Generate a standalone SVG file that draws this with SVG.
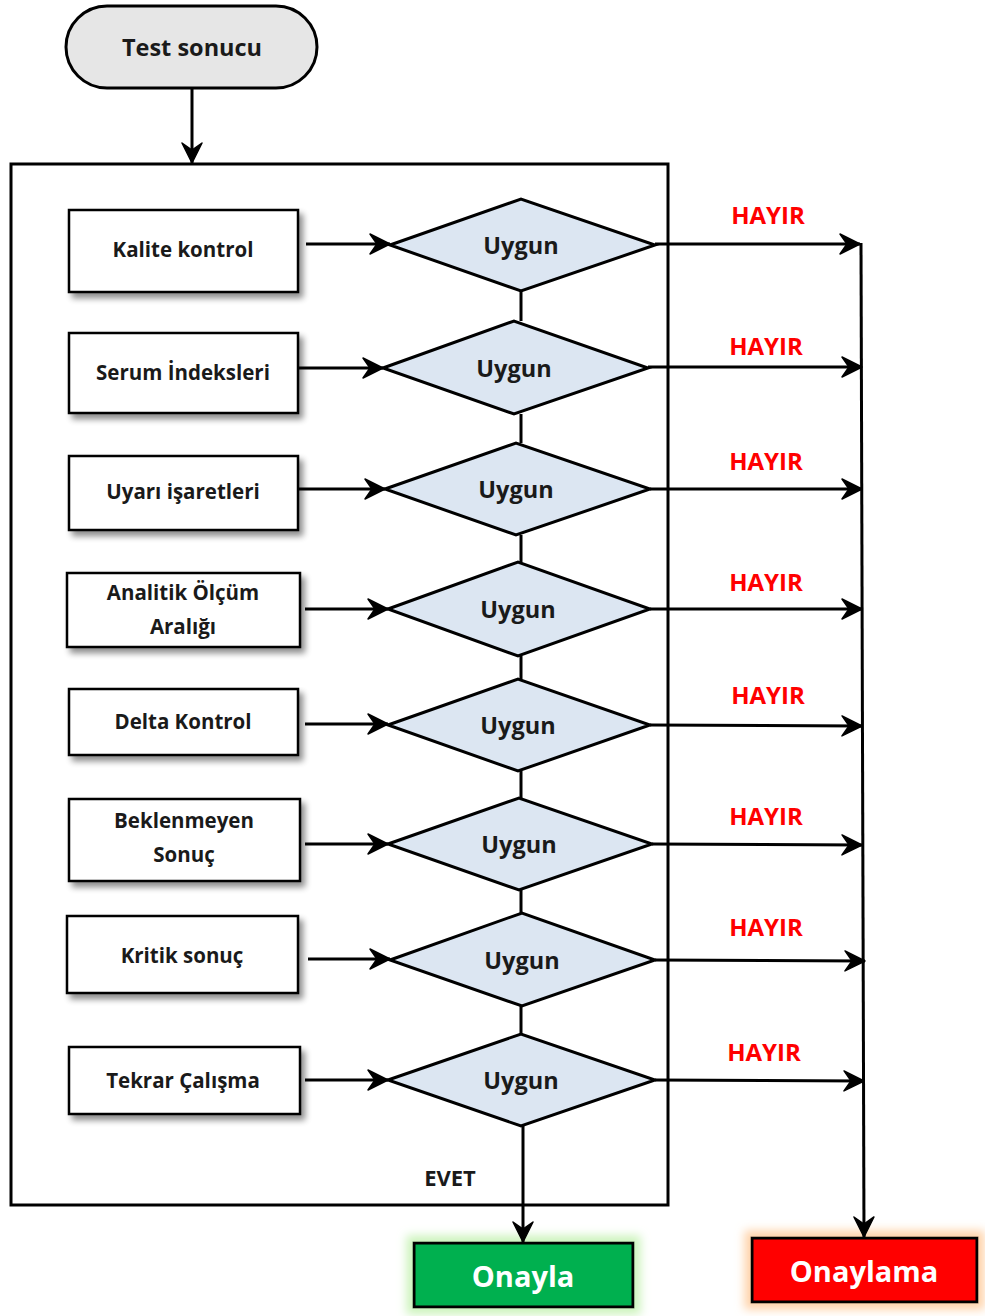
<svg xmlns="http://www.w3.org/2000/svg" width="985" height="1316" viewBox="0 0 985 1316">
<style>
text{font-family:"Open Sans","Noto Sans",sans-serif;font-weight:700;text-anchor:middle;dominant-baseline:central;fill:#1a1a1a}
.box{fill:#fff;stroke:#000;stroke-width:2.5;filter:url(#sh)}
.dia{fill:#dce6f2;stroke:#000;stroke-width:3}
.t{font-size:20.5px}
.u{font-size:23.5px}
.no{font-size:24px;fill:#ff0000;font-weight:700}
.c line,.c path{stroke:#000;stroke-width:3;fill:none}
.w{fill:#fff;font-size:29px;font-weight:700}
</style>
<defs>
<marker id="ahv" viewBox="0 0 24 24" refX="22" refY="12" markerWidth="24" markerHeight="24" markerUnits="userSpaceOnUse" orient="auto">
<path d="M2,2 L22,12 L2,22 L9,12 Z" fill="#000" stroke="#000" stroke-width="1.5" stroke-linejoin="round"/>
</marker>
<filter id="sh" x="-10%" y="-10%" width="130%" height="140%">
<feGaussianBlur in="SourceAlpha" stdDeviation="3"/>
<feOffset dx="4" dy="5" result="o"/>
<feComponentTransfer><feFuncA type="linear" slope="0.45"/></feComponentTransfer>
<feMerge><feMergeNode/><feMergeNode in="SourceGraphic"/></feMerge>
</filter>
<filter id="gg" x="-20%" y="-40%" width="140%" height="180%">
<feMorphology in="SourceAlpha" operator="dilate" radius="6"/>
<feGaussianBlur stdDeviation="5"/>
<feColorMatrix type="matrix" values="0 0 0 0 0.6  0 0 0 0 0.9  0 0 0 0 0.5  0 0 0 1 0"/>
<feMerge><feMergeNode/><feMergeNode in="SourceGraphic"/></feMerge>
</filter>
<filter id="og" x="-20%" y="-40%" width="140%" height="180%">
<feMorphology in="SourceAlpha" operator="dilate" radius="6"/>
<feGaussianBlur stdDeviation="5"/>
<feColorMatrix type="matrix" values="0 0 0 0 1  0 0 0 0 0.65  0 0 0 0 0.4  0 0 0 1 0"/>
<feMerge><feMergeNode/><feMergeNode in="SourceGraphic"/></feMerge>
</filter>
</defs>
<rect width="985" height="1316" fill="#fff"/>

<g id="container"><rect x="11" y="164" width="657" height="1041" fill="none" stroke="#000" stroke-width="3"/></g>

<g id="start"><rect x="66" y="6" width="251" height="82" rx="41" fill="#e6e6e6" stroke="#000" stroke-width="3"/><text x="192" y="47" class="u">Test sonucu</text></g>

<g id="b1"><rect class="box" x="69" y="210" width="229" height="82"/><text class="t" x="183" y="249">Kalite kontrol</text></g>
<g id="b2"><rect class="box" x="69" y="333" width="229" height="80"/><text class="t" x="183" y="372">Serum İndeksleri</text></g>
<g id="b3"><rect class="box" x="69" y="456" width="229" height="74"/><text class="t" x="183" y="491">Uyarı işaretleri</text></g>
<g id="b4"><rect class="box" x="67" y="573" width="233" height="74"/><text class="t" x="183" y="592">Analitik Ölçüm</text><text class="t" x="183" y="626">Aralığı</text></g>
<g id="b5"><rect class="box" x="69" y="689" width="229" height="66"/><text class="t" x="183" y="721">Delta Kontrol</text></g>
<g id="b6"><rect class="box" x="69" y="799" width="231" height="82"/><text class="t" x="184" y="820">Beklenmeyen</text><text class="t" x="184" y="854">Sonuç</text></g>
<g id="b7"><rect class="box" x="67" y="916" width="231" height="77"/><text class="t" x="182" y="955">Kritik sonuç</text></g>
<g id="b8"><rect class="box" x="69" y="1047" width="231" height="67"/><text class="t" x="183" y="1080">Tekrar Çalışma</text></g>

<g id="d1"><polygon class="dia" points="390,245 521,199 655,245 521,291"/><text class="u" x="521" y="245">Uygun</text></g>
<g id="d2"><polygon class="dia" points="383,368 514,321 648,368 514,414"/><text class="u" x="514" y="368">Uygun</text></g>
<g id="d3"><polygon class="dia" points="385,489 516,443 650,489 516,535"/><text class="u" x="516" y="489">Uygun</text></g>
<g id="d4"><polygon class="dia" points="388,609 518,562 650,609 518,656"/><text class="u" x="518" y="609">Uygun</text></g>
<g id="d5"><polygon class="dia" points="388,725 518,679 650,725 518,771"/><text class="u" x="518" y="725">Uygun</text></g>
<g id="d6"><polygon class="dia" points="388,844 519,798 652,844 519,890"/><text class="u" x="519" y="844">Uygun</text></g>
<g id="d7"><polygon class="dia" points="390,960 522,913 655,960 522,1006"/><text class="u" x="522" y="960">Uygun</text></g>
<g id="d8"><polygon class="dia" points="388,1080 521,1034 655,1080 521,1126"/><text class="u" x="521" y="1080">Uygun</text></g>

<g id="onayla"><rect x="414" y="1243" width="219" height="64" fill="#00b050" stroke="#000" stroke-width="3" filter="url(#gg)"/><text class="w" x="523" y="1275">Onayla</text></g>
<g id="onaylama"><rect x="752" y="1238" width="225" height="64" fill="#ff0000" stroke="#000" stroke-width="3" filter="url(#og)"/><text class="w" x="864" y="1270">Onaylama</text></g>

<g id="connectors" class="c">
<line x1="192" y1="88" x2="192" y2="163" marker-end="url(#ahv)"/>
<line x1="306" y1="244" x2="390" y2="244" marker-end="url(#ahv)"/>
<line x1="298" y1="368" x2="383" y2="368" marker-end="url(#ahv)"/>
<line x1="298" y1="489" x2="385" y2="489" marker-end="url(#ahv)"/>
<line x1="305" y1="609" x2="388" y2="609" marker-end="url(#ahv)"/>
<line x1="305" y1="724" x2="388" y2="724" marker-end="url(#ahv)"/>
<line x1="305" y1="844" x2="388" y2="844" marker-end="url(#ahv)"/>
<line x1="308" y1="959" x2="390" y2="959" marker-end="url(#ahv)"/>
<line x1="305" y1="1080" x2="388" y2="1080" marker-end="url(#ahv)"/>
<line x1="521" y1="291" x2="521" y2="321"/>
<line x1="521" y1="414" x2="521" y2="443"/>
<line x1="521" y1="535" x2="521" y2="562"/>
<line x1="521" y1="656" x2="521" y2="679"/>
<line x1="521" y1="771" x2="521" y2="798"/>
<line x1="521" y1="890" x2="521" y2="913"/>
<line x1="521" y1="1006" x2="521" y2="1034"/>
<line x1="523" y1="1126" x2="523" y2="1242" marker-end="url(#ahv)"/>
<line x1="655" y1="244" x2="860" y2="244" marker-end="url(#ahv)"/>
<line x1="648" y1="367" x2="862" y2="367" marker-end="url(#ahv)"/>
<line x1="650" y1="489" x2="862" y2="489" marker-end="url(#ahv)"/>
<line x1="650" y1="609" x2="862" y2="609" marker-end="url(#ahv)"/>
<line x1="650" y1="725" x2="862" y2="726" marker-end="url(#ahv)"/>
<line x1="652" y1="844" x2="862" y2="845" marker-end="url(#ahv)"/>
<line x1="655" y1="960" x2="865" y2="961" marker-end="url(#ahv)"/>
<line x1="655" y1="1080" x2="864" y2="1081" marker-end="url(#ahv)"/>
<line x1="861" y1="243" x2="864" y2="1237" marker-end="url(#ahv)"/>
</g>

<g id="labels">
<text class="no" x="768" y="214">HAYIR</text>
<text class="no" x="766" y="345">HAYIR</text>
<text class="no" x="766" y="460">HAYIR</text>
<text class="no" x="766" y="581">HAYIR</text>
<text class="no" x="768" y="694">HAYIR</text>
<text class="no" x="766" y="815">HAYIR</text>
<text class="no" x="766" y="926">HAYIR</text>
<text class="no" x="764" y="1051">HAYIR</text>
<text x="450" y="1177" style="font-size:22px">EVET</text>
</g>
</svg>
